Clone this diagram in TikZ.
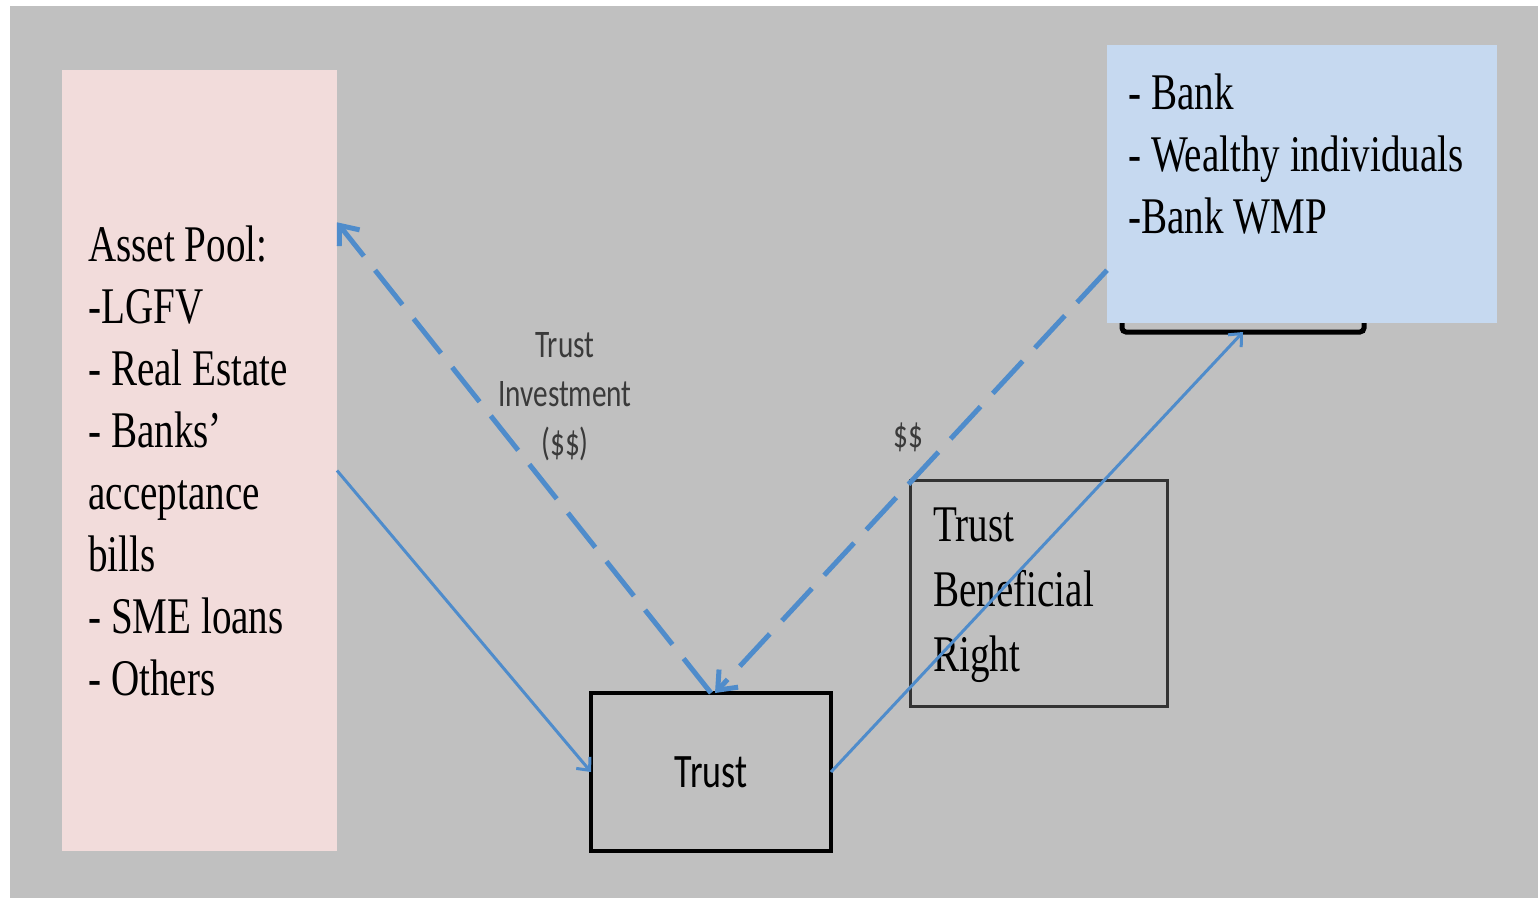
\documentclass[tikz,border=0pt]{standalone}
\usepackage{fontspec}
\setmainfont{Liberation Serif}
\newfontfamily\slimserif[FakeStretch=0.76]{Liberation Serif}
\newfontfamily\slimsans[FakeStretch=0.75]{Carlito}
\usetikzlibrary{arrows.meta, positioning, calc}

\definecolor{slidegray}{HTML}{C0C0C0}
\definecolor{poolpink}{HTML}{F2DCDB}
\definecolor{fundblue}{HTML}{C6D9F0}
\definecolor{flowblue}{HTML}{4F8CCB}
\definecolor{labelgray}{HTML}{3A3A3A}

\begin{document}
\begin{tikzpicture}[
    x=0.5pt, y=-0.5pt,
    >={Straight Barb[length=5pt, width=9pt]}, % small open tips
    panel/.style={anchor=north west, inner sep=0pt, outer sep=0pt},
    framed/.style={panel, draw=#1, line width=1.5pt},
    serif text/.style={inner sep=0pt, align=left, font=\slimserif\fontsize{25.7}{31}\selectfont},
    flow/.style={->, flowblue, line width=1.5pt},
    money/.style={-{Straight Barb[length=8pt, width=13pt]}, flowblue, line width=2.5pt, dash pattern=on 22pt off 9pt},
    note/.style={inner sep=0pt, align=center, text=labelgray, font=\slimsans\fontsize{19.5}{24.5}\selectfont}
]

    % === Canvas ===
    \useasboundingbox (0,0) rectangle (1538,901);
    \fill[white] (0,0) rectangle (1538,901);
    \fill[slidegray] (10,6) rectangle (1538,898);

    % === Asset pool ===
    \node[panel, fill=poolpink, minimum width=137.5pt, minimum height=390.5pt] (pool) at (62,70) {};
    \node[serif text, below right=77.5pt and 13pt of pool.north west] (poolText)
        {Asset Pool:\\-LGFV\\- Real Estate\\- Banks’\\acceptance\\bills\\- SME loans\\- Others};

    % === Investors (box behind the blue one) ===
    \node[panel, draw=black, line width=2.5pt, rounded corners=2pt, minimum width=121pt, minimum height=41pt] (hidden) at (1122,250) {};
    \node[panel, fill=fundblue, minimum width=195pt, minimum height=139pt] (investors) at (1107,45) {};
    \node[serif text, below right=14pt and 10.5pt of investors.north west] (investorsText)
        {- Bank\\- Wealthy individuals\\-Bank WMP};

    % === Trust and beneficial right ===
    \node[framed=black!80, minimum width=128.5pt, minimum height=113pt] (benefit) at (910,480) {};
    \node[serif text, font=\slimserif\fontsize{25.7}{32.5}\selectfont,
          below right=13.5pt and 11.5pt of benefit.north west] (benefitText)
        {Trust\\Beneficial\\Right};

    \node[framed=black, line width=2pt, minimum width=120pt, minimum height=79pt] (trust) at (591,693) {};
    \node[inner sep=0pt, font=\slimsans\fontsize{24}{28}\selectfont] (trustText) at (trust.center) {Trust};

    % === Flows ===
    \draw[flow] ([yshift=-5pt]pool.east) -- (trust.west);
    \draw[money] (trust.north) -- ($(pool.north east)!0.195!(pool.south east)$);
    \draw[money] ($(investors.north west)!0.81!(investors.south west)$) -- ([xshift=2pt]trust.north);
    \draw[flow] (trust.east) -- (hidden.south);

    % === Flow labels ===
    \node[note] (investLabel) at (565,397) {Trust\\Investment\\(\$\$)};
    \node[note] (cashLabel) at (908,437) {\$\$};

\end{tikzpicture}
\end{document}
